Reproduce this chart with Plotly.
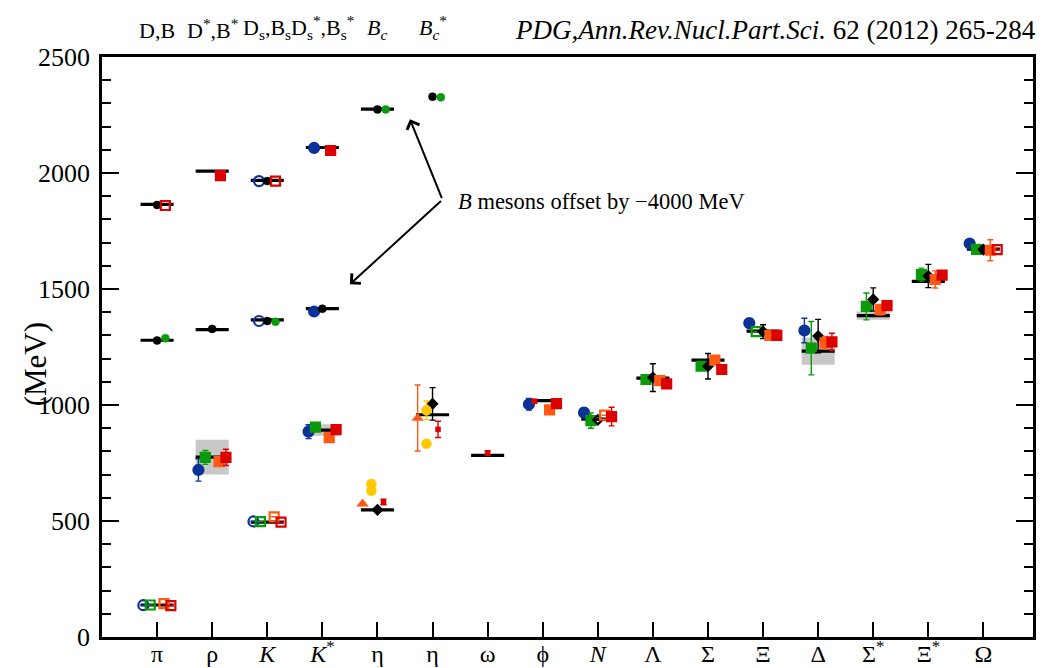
import plotly.graph_objects as go

FONT = "Liberation Serif, Tinos, Times New Roman, DejaVu Serif, serif"

# ---------------- light hadrons (bottom axis) ----------------
categories = ["π", "ρ", "K", "K*", "η", "η'", "ω", "φ", "N", "Λ", "Σ", "Ξ", "Δ", "Σ*", "Ξ*", "Ω"]
tick_text = ["π", "ρ", "<i>K</i>", "<i>K</i><sup>*</sup>", "η", "η", "ω", "ϕ", "<i>N</i>",
             "Λ", "Σ", "Ξ", "Δ", "Σ<sup>*</sup>", "Ξ<sup>*</sup>", "Ω"]

exp_mass = [138, 775, 495, 892, 548, 958, 783, 1019, 939, 1116, 1193, 1318, 1232, 1385, 1533, 1672]
exp_halfwidth = [0, 75, 0, 25, 0, 0, 0, 0, 0, 0, 0, 0, 58, 18, 5, 0]

blue_mass = [137, 720, 498, 885, None, None, None, 1003, 967, None, None, 1353, 1321, None, None, 1696]
blue_err = [None, 48, None, 30, None, None, None, 25, 20, None, None, 18, 53, None, None, None]
blue_input = [1, 0, 1, 0, 0, 0, 0, 0, 0, 0, 0, 0, 0, 0, 0, 0]

green_mass = [138, 774, 497, 905, None, None, None, None, 933, 1110, 1167, 1316, 1245, 1425, 1562, 1671]
green_err = [None, 30, None, None, None, None, None, None, 33, 15, 15, None, 115, 58, 28, 15]
green_input = [1, 0, 1, 0, 0, 0, 0, 0, 0, 0, 0, 1, 0, 0, 0, 0]

black_mass = [None, None, None, None, 548, 1005, None, None, 936, 1118, 1167, 1316, 1297, 1455, 1556, 1670]
black_err = [None, None, None, None, None, 70, None, None, None, 60, 55, 30, 72, 50, 50, 15]
black_input = [0, 0, 0, 0, 0, 0, 0, 0, 1, 0, 0, 0, 0, 0, 0, 0]

orange_mass = [144, 756, 518, 859, None, None, None, 979, 956, 1105, 1193, 1300, 1268, 1411, 1541, 1667]
orange_err = [None, None, None, None, None, None, None, 15, None, 20, 15, 20, 27, 22, 37, 45]
orange_input = [1, 0, 1, 0, 0, 0, 0, 0, 1, 0, 0, 0, 0, 0, 0, 0]

red_mass = [135, 774, 495, 894, None, None, None, 1006, 950, 1091, 1153, 1300, 1272, 1428, 1560, 1670]
red_err = [None, 35, None, None, None, None, None, None, 40, None, None, None, 37, 12, None, None]
red_input = [1, 0, 1, 0, 0, 0, 0, 0, 0, 0, 0, 0, 0, 0, 0, 1]

# eta / eta' / omega / phi extra results
yellow1_mass = [None, None, None, None, 659, 977, None, None, None, None, None, None, None, None, None, None]
yellow1_err = [None, None, None, None, None, 40, None, None, None, None, None, None, None, None, None, None]
yellow2_mass = [None, None, None, None, 630, 833, None, None, None, None, None, None, None, None, None, None]
tri_mass = [None, None, None, None, 574, 944, None, None, None, None, None, None, None, None, None, None]
tri_err = [None, None, None, None, None, 142, None, None, None, None, None, None, None, None, None, None]
redsmall_mass = [None, None, None, None, 582, 895, 793, 1016, None, None, None, None, None, None, None, None]
redsmall_err = [None, None, None, None, 12, 35, 10, 8, None, None, None, None, None, None, None, None]

# ---------------- heavy mesons (top labels) ----------------
heavy_labels = ["D,B", "D<sup>*</sup>,B<sup>*</sup>", "D<sub>s</sub>,B<sub>s</sub>",
                "D<sub>s</sub><sup>*</sup>,B<sub>s</sub><sup>*</sup>",
                "<i>B<sub>c</sub></i>", "<i>B<sub>c</sub></i><sup>*</sup>"]
B_OFFSET = 4000
charm_exp = [1865, 2008, 1968, 2110, None, None]
bottom_exp = [5279, 5325, 5367, 5415, 6275, None]

heavy_black_charm = [1862, None, 1965, None, None, None]
heavy_black_bottom = [5278, 5328, 5362, 5415, 6274, 6329]
heavy_blue_charm = [None, None, 1965, 2108, None, None]
heavy_blue_bottom = [None, None, 5362, 5403, None, None]
heavy_blue_input = [0, 0, 1, 0, 0, 0]
heavy_red_charm = [1860, 1989, 1965, 2097, None, None]
heavy_red_input = [1, 0, 1, 0, 0, 0]
heavy_green_bottom = [5288, None, 5359, None, 6274, 6326]

# ---------------- styles ----------------
BLUE = "#0a3297"
GREEN = "#0a9a0a"
BLACK = "#000000"
ORANGE = "#ff5a14"
RED = "#dc0000"
YELLOW = "#ffc800"
GRAY = "#c8c8c8"
HALF = 0.3

fig = go.Figure()

# gray width boxes
for i, (m, w) in enumerate(zip(exp_mass, exp_halfwidth)):
    if w:
        fig.add_shape(type="rect", xref="x", yref="y", x0=i + 1 - HALF, x1=i + 1 + HALF,
                      y0=m - w, y1=m + w, fillcolor=GRAY, line=dict(width=0), layer="below")


def seg_trace(cols, vals):
    xx, yy = [], []
    for c, v in zip(cols, vals):
        if v is None:
            continue
        xx += [c - HALF, c + HALF, None]
        yy += [v, v, None]
    return go.Scatter(x=xx, y=yy, mode="lines", line=dict(color="black", width=3.2),
                      hoverinfo="skip", showlegend=False)


fig.add_trace(seg_trace(range(1, 17), exp_mass))
fig.add_trace(seg_trace(range(1, 7), charm_exp))
fig.add_trace(seg_trace(range(1, 7), [v - B_OFFSET if v else None for v in bottom_exp]))


def add_series(vals, errs, inputs, offsets, color, symbol, size, open_symbol=None, shift=0,
               lw=2.2):
    xx, yy, ee, ss = [], [], [], []
    n = len(vals)
    if not isinstance(offsets, list):
        offsets = [offsets] * n
    for i, v in enumerate(vals):
        if v is None:
            continue
        xx.append(i + 1 + offsets[i])
        yy.append(v - shift)
        ee.append(errs[i] if errs else None)
        ss.append(open_symbol if (inputs and inputs[i]) else symbol)
    tr = go.Scatter(x=xx, y=yy, mode="markers", showlegend=False, hoverinfo="skip",
                    marker=dict(color=color, symbol=ss, size=size,
                                line=dict(color=color, width=lw)))
    if errs:
        tr.error_y = dict(type="data", array=ee, visible=True, color=color,
                          thickness=1.4, width=3)
    fig.add_trace(tr)


# light hadrons
add_series(blue_mass, blue_err, blue_input, -0.25, BLUE, "circle", 10, "circle-open")
add_series(green_mass, green_err, green_input, -0.125, GREEN, "square", 9, "square-open")
add_series(black_mass, black_err, black_input, 0.0, BLACK, "diamond", 7, "diamond-open")
add_series(orange_mass, orange_err, orange_input, 0.125, ORANGE, "square", 9, "square-open")
add_series(red_mass, red_err, red_input, 0.25, RED, "square", 9, "square-open")
add_series(tri_mass, tri_err, None, -0.27, ORANGE, "triangle-up", 10, lw=0.5)
add_series(yellow1_mass, yellow1_err, None, -0.11, YELLOW, "circle", 10, lw=0.5)
add_series(yellow2_mass, None, None, -0.11, YELLOW, "circle", 10, lw=0.5)
add_series(redsmall_mass, redsmall_err, None,
           [0, 0, 0, 0, 0.11, 0.1, 0.0, -0.15, 0, 0, 0, 0, 0, 0, 0, 0],
           RED, "square", 5, lw=0.5)

# heavy mesons
add_series(heavy_blue_charm, None, heavy_blue_input, -0.15, BLUE, "circle", 10, "circle-open")
add_series(heavy_blue_bottom, None, heavy_blue_input, -0.15, BLUE, "circle", 10, "circle-open",
           shift=B_OFFSET)
add_series(heavy_black_charm, None, None, 0.0, BLACK, "circle", 8, lw=0.5)
add_series(heavy_black_bottom, None, None, 0.0, BLACK, "circle", 8, lw=0.5, shift=B_OFFSET)
add_series(heavy_red_charm, None, heavy_red_input, 0.15, RED, "square", 9, "square-open")
add_series(heavy_green_bottom, None, None, 0.15, GREEN, "circle", 8, lw=0.5, shift=B_OFFSET)

# annotations
ann = []
for i, lab in enumerate(heavy_labels):
    ann.append(dict(x=i + 1, xref="x", y=1.0, yref="paper", yanchor="bottom", yshift=12,
                    text=lab, showarrow=False, font=dict(family=FONT, size=22, color="black")))

ann.append(dict(x=1.0, xref="paper", y=1.0466, yref="paper", xanchor="right", yanchor="middle",
                text="<i>PDG,Ann.Rev.Nucl.Part.Sci.</i> 62 (2012) 265-284", showarrow=False,
                font=dict(family=FONT, size=27, color="black"), xshift=5))

ann.append(dict(x=6.42, xref="x", y=1878, yref="y", xanchor="left", yanchor="middle",
                text="<i>B</i> mesons offset by −4000 MeV", showarrow=False,
                font=dict(family=FONT, size=22.5, color="black")))

for tip in [(5.59, 2232), (4.50, 1520)]:
    ann.append(dict(x=tip[0], y=tip[1], xref="x", yref="y", ax=6.18, ay=1885, axref="x",
                    ayref="y", text="", showarrow=True, arrowhead=4, arrowsize=1.3,
                    arrowwidth=2, arrowcolor="black", standoff=0))

ann.append(dict(x=-0.072, xref="paper", y=0.47, yref="paper", xanchor="center",
                yanchor="middle", text="(MeV)", textangle=-90,
                showarrow=False, font=dict(family=FONT, size=31, color="black")))

fig.update_layout(
    width=1041, height=668,
    margin=dict(l=102, r=8, t=57, b=31, autoexpand=False),
    plot_bgcolor="white", paper_bgcolor="white",
    font=dict(family=FONT, size=22, color="black"),
    annotations=ann,
    xaxis=dict(range=[0, 16.9], tickmode="array", tickvals=list(range(1, 17)), ticktext=tick_text,
               ticks="inside", ticklen=15, tickwidth=1.5, tickcolor="black",
               showline=True, linewidth=2.8, linecolor="black", mirror=True,
               showgrid=False, zeroline=False, tickfont=dict(family=FONT, size=24),
               ticklabelstandoff=-7),
    yaxis=dict(range=[0, 2500], tickmode="array", tickvals=[0, 500, 1000, 1500, 2000, 2500],
               ticks="inside", ticklen=17, tickwidth=1.5, tickcolor="black",
               minor=dict(dtick=100, ticks="inside", ticklen=9, tickwidth=1.5, tickcolor="black"),
               showline=True, linewidth=2.8, linecolor="black", mirror="ticks",
               showgrid=False, zeroline=False, tickfont=dict(family=FONT, size=26),
               ticklabelstandoff=4),
)

fig.write_html("out.html")
